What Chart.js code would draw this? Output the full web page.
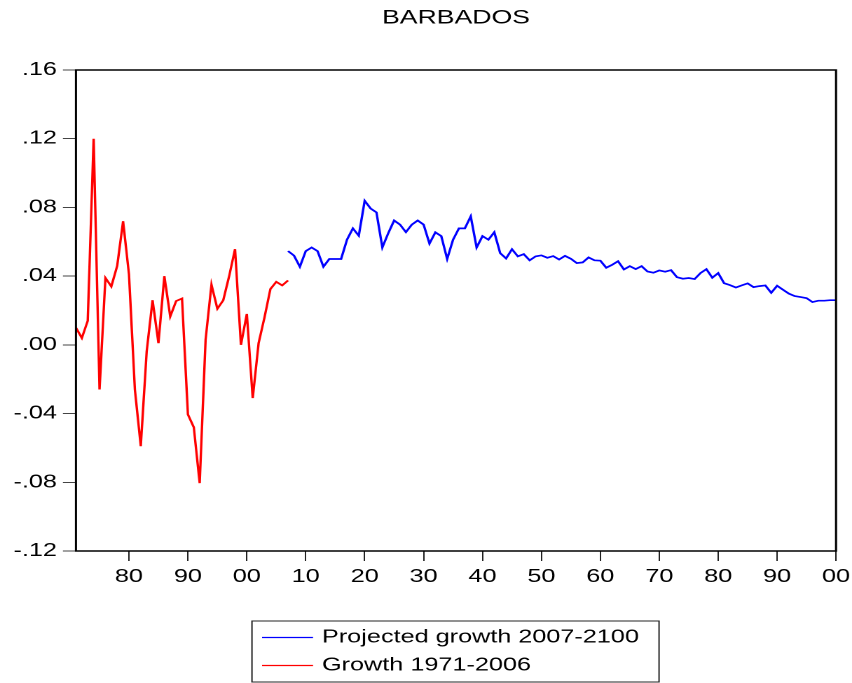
<!DOCTYPE html>
<html>
<head>
<meta charset="utf-8">
<script src="https://cdn.jsdelivr.net/npm/chart.js@4.4.1/dist/chart.umd.min.js"></script>
<style>
    html, body { margin: 0; padding: 0; background: #fff; overflow: hidden; }
    /* the reference text is stretched sideways, so the whole chart is drawn narrow and widened */
    #wrap { position: relative; width: 608px; height: 683px; transform: scaleX(1.40132); transform-origin: 0 0; }
</style>
</head>
<body>
<div id="wrap"><canvas id="chart"></canvas></div>
<script>
const histStart = 1971;
const projStart = 2007;

const growthHist = [
    0.010, 0.004, 0.014, 0.120, -0.026, 0.039, 0.034, 0.046, 0.072, 0.041,
    -0.026, -0.059, -0.004, 0.026, 0.001, 0.040, 0.0165, 0.0255, 0.027, -0.0405,
    -0.048, -0.0805, 0.003, 0.035, 0.021, 0.026, 0.040, 0.0557, 0.000, 0.018,
    -0.031, 0.001, 0.016, 0.0325, 0.0367, 0.0346, 0.0375
];

const growthProj = [
    0.0546, 0.052, 0.0455,
    0.0546, 0.0567, 0.0546, 0.0455, 0.050, 0.050, 0.050, 0.0612, 0.0678, 0.0635,
    0.0839, 0.0794, 0.0771, 0.0567, 0.065, 0.0724, 0.070, 0.0656, 0.070, 0.0724,
    0.070, 0.059, 0.0655, 0.0633, 0.050, 0.0612, 0.0678, 0.0678, 0.0748, 0.0567,
    0.0633, 0.0612, 0.0656, 0.0534, 0.0503, 0.0557, 0.0515, 0.0528, 0.0492, 0.0515,
    0.0521, 0.0507, 0.0517, 0.0497, 0.0518, 0.0501, 0.0476, 0.048, 0.0509, 0.0492,
    0.049, 0.0449, 0.0466, 0.0487, 0.0439, 0.0458, 0.0441, 0.0458, 0.0427, 0.042,
    0.0433, 0.0426, 0.0435, 0.0394, 0.0385, 0.0389, 0.0383, 0.0418, 0.0441, 0.0391,
    0.0418, 0.0359, 0.0348, 0.0334, 0.0346, 0.0358, 0.0336, 0.0342, 0.0346, 0.0303,
    0.0344, 0.0321, 0.0298, 0.0284, 0.0278, 0.0272, 0.0249, 0.0257, 0.0257, 0.026,
    0.026
];

const xTickYears = [1980, 1990, 2000, 2010, 2020, 2030, 2040, 2050, 2060, 2070, 2080, 2090, 2100];
const xTickLabels = ['80', '90', '00', '10', '20', '30', '40', '50', '60', '70', '80', '90', '00'];
const yTicks = [-0.12, -0.08, -0.04, 0.00, 0.04, 0.08, 0.12, 0.16];
const yTickLabels = ['-.12', '-.08', '-.04', '.00', '.04', '.08', '.12', '.16'];

const chartTitle = 'BARBADOS';
const FONT = "'Liberation Sans', Arial, Helvetica, sans-serif";

function toPoints(start, values) {
    return values.map((v, i) => ({ x: start + i, y: v }));
}

// title over the plot, box round the plot and the boxed legend under it
const framePlugin = {
    id: 'frame',
    afterDraw(chart) {
        const { ctx, chartArea: a } = chart;
        ctx.save();
        ctx.fillStyle = '#000';
        ctx.font = '19px ' + FONT;
        ctx.textAlign = 'center';
        ctx.textBaseline = 'middle';
        ctx.fillText(chartTitle, (a.left + a.right) / 2, 18.5);

        ctx.strokeStyle = '#000';
        ctx.lineWidth = 1.5;
        ctx.strokeRect(a.left, a.top, a.right - a.left, a.bottom - a.top);

        // legend
        ctx.lineWidth = 1;
        ctx.strokeStyle = '#222';
        ctx.strokeRect(179.8, 621, 290.5, 61);
        ctx.font = '18px ' + FONT;
        ctx.textAlign = 'left';
        chart.data.datasets.forEach((ds, i) => {
            const y = 637.5 + i * 28;
            ctx.strokeStyle = ds.borderColor;
            ctx.lineWidth = 1.2;
            ctx.beginPath();
            ctx.moveTo(187, y);
            ctx.lineTo(223.4, y);
            ctx.stroke();
            ctx.fillText(ds.label, 229.8, y);
        });
        ctx.restore();
    }
};

new Chart(document.getElementById('chart'), {
    type: 'line',
    data: {
        datasets: [
            {
                label: 'Projected growth 2007-2100',
                data: toPoints(projStart, growthProj),
                borderColor: '#0000ff',
                borderWidth: 1.7,
                pointRadius: 0,
                tension: 0
            },
            {
                label: 'Growth 1971-2006',
                data: toPoints(histStart, growthHist),
                borderColor: '#ff0000',
                borderWidth: 1.7,
                pointRadius: 0,
                tension: 0
            }
        ]
    },
    options: {
        responsive: true,
        maintainAspectRatio: false,
        animation: false,
        devicePixelRatio: 2,
        layout: { padding: { top: 70, left: 0, right: 11.4, bottom: 92 } },
        plugins: {
            legend: { display: false },
            tooltip: { enabled: false },
            title: { display: false }
        },
        scales: {
            x: {
                type: 'linear',
                min: 1971,
                max: 2100,
                afterBuildTicks: s => { s.ticks = xTickYears.map(v => ({ value: v })); },
                // last label may hang past the frame, as in the reference
                afterFit: s => { s.height = 40; s.paddingRight = 0; },
                border: { display: false },
                grid: { drawOnChartArea: false, tickLength: 10, tickColor: '#222', tickWidth: 1 },
                ticks: {
                    autoSkip: false,
                    maxRotation: 0,
                    padding: 5,
                    color: '#000',
                    font: { family: FONT, size: 18 },
                    callback: v => xTickLabels[xTickYears.indexOf(v)]
                }
            },
            y: {
                min: -0.12,
                max: 0.16,
                afterBuildTicks: s => { s.ticks = yTicks.map(v => ({ value: v })); },
                afterFit: s => { s.width = 54.2; },
                border: { display: false },
                grid: { drawOnChartArea: false, tickLength: 9.3, tickColor: '#444', tickWidth: 1 },
                ticks: {
                    padding: 4.3,
                    color: '#000',
                    font: { family: FONT, size: 18 },
                    callback: (v, i) => yTickLabels[i]
                }
            }
        }
    },
    plugins: [framePlugin]
});
</script>
</body>
</html>
